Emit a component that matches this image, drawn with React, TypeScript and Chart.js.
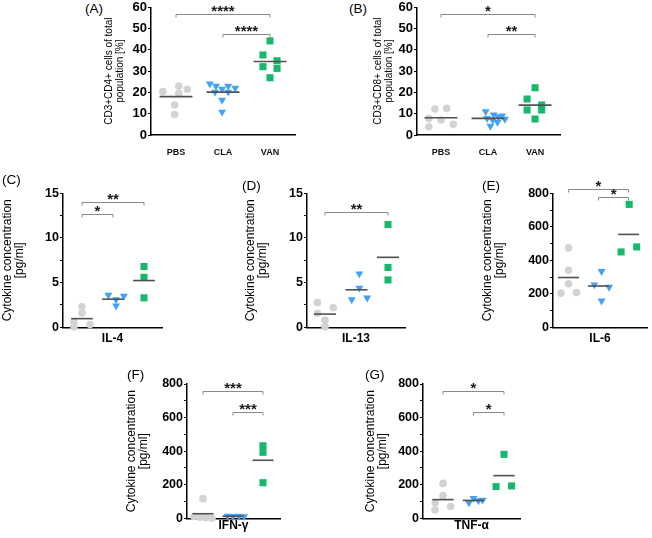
import React, { useEffect, useRef } from 'react';
import { Chart, registerables } from 'chart.js';

Chart.register(...registerables);

const FONT = '"Liberation Sans", Arial, sans-serif';

// group labels
const groups = ['PBS', 'CLA', 'VAN'];

// (A) CD3+CD4+ [%]
const aPbs = [20.4, 23.0, 21.5, 19.6, 14.1, 9.6];
const aPbsJit = [-0.28, 0.06, 0.24, 0.06, -0.03, -0.03];
const aCla = [24.0, 23.0, 21.6, 23.0, 22.1, 20.2, 20.2, 16.4, 10.8];
const aClaJit = [-0.28, -0.15, -0.02, 0.11, 0.26, -0.17, 0.11, -0.02, -0.02];
const aVan = [44.2, 37.6, 34.9, 32.1, 31.3, 26.9];
const aVanJit = [0, -0.15, 0.15, -0.15, 0.15, 0];

// (B) CD3+CD8+ [%]
const bPbs = [12.2, 12.5, 7.8, 7.05, 5.0, 3.9];
const bPbsJit = [-0.13, 0.12, -0.26, 0, 0.26, -0.26];
const bCla = [11, 9.5, 9, 8.5, 7.8, 7.5, 7, 6, 4.2];
const bClaJit = [-0.05, 0.12, 0.3, 0.22, -0.02, 0.36, 0.1, 0.2, 0.05];
const bVan = [22.2, 16.9, 14.1, 11.75, 11.75, 7.5];
const bVanJit = [0, -0.17, 0.14, -0.17, 0.14, 0];

// (C) IL-4 [pg/ml]
const cPbs = [2.3, 1.6, 0.6, 0.3, 0.05];
const cPbsJit = [0, 0, -0.26, 0.26, -0.26];
const cCla = [3.6, 3.5, 3.1, 2.4];
const cClaJit = [-0.15, 0.35, 0.1, 0.1];
const cVan = [6.8, 5.6, 3.3];
const cVanJit = [0, 0, 0];

// (D) IL-13 [pg/ml]
const dPbs = [2.76, 2.2, 1.57, 0.8, 0.07];
const dPbsJit = [-0.24, 0.26, -0.24, 0, 0];
const dCla = [6.0, 4.4, 3.1, 3.3];
const dClaJit = [0.09, 0.09, -0.15, 0.34];
const dVan = [11.5, 6.7, 5.3];
const dVanJit = [0, 0, 0];

// (E) IL-6 [pg/ml]
const ePbs = [474, 340, 260, 204, 208];
const ePbsJit = [0, 0, 0, -0.25, 0.27];
const eCla = [334, 254, 240, 158];
const eClaJit = [0.1, -0.14, 0.35, 0.1];
const eVan = [734, 450, 480];
const eVanJit = [0.02, -0.25, 0.27];

// (F) IFN-γ [pg/ml]
const fPbs = [117, 10, 6, 3, 0];
const fPbsJit = [0, -0.3, -0.1, 0.1, 0.3];
const fCla = [14, 12, 13, 11];
const fClaJit = [-0.18, 0, 0.2, 0.37];
const fVan = [432, 393, 212];
const fVanJit = [0, 0, 0];

// (G) TNF-α [pg/ml]
const gPbs = [208, 135, 93, 70, 50];
const gPbsJit = [0, 0, -0.26, 0.25, -0.26];
const gCla = [119, 93, 105, 109];
const gClaJit = [0, -0.15, 0.16, 0.3];
const gVan = [381, 189, 193];
const gVanJit = [0, -0.26, 0.25];

// significance brackets: [fromGroup, toGroup, yValue, label]
const aSig: [number, number, number, string][] = [[0, 2, 56.7, '****'], [1, 2, 47.3, '****']];
const bSig: [number, number, number, string][] = [[0, 2, 56.9, '*'], [1, 2, 47.5, '**']];
const cSig: [number, number, number, string][] = [[0, 2, 14, '**'], [0, 1, 12.7, '*']];
const dSig: [number, number, number, string][] = [[0, 2, 12.9, '**']];
const eSig: [number, number, number, string][] = [[0, 2, 824, '*'], [1, 2, 778, '*']];
const fSig: [number, number, number, string][] = [[0, 2, 760, '***'], [1, 2, 631, '***']];
const gSig: [number, number, number, string][] = [[0, 2, 758, '*'], [1, 2, 631, '*']];

const pctTitle = (n: string) => [`CD3+${n}+ cells of total`, 'population [%]'];
const cytoTitle = ['Cytokine concentration', '[pg/ml]'];

const COLORS = ['#d3d3d3', '#44a2f5', '#17b86c'];
const STYLES = ['circle', 'triangle', 'rect'];
const RADII = [3.8, 4.6, 5];
const ROT = [0, 180, 0];

type Rect = { left: number; top: number; width: number; height: number };
type Area = { left: number; top: number; right: number; bottom: number };
type PanelDef = {
  letter: string;
  letterPos: [number, number];
  canvas: Rect;
  area: Area;
  xRange: [number, number];
  yMax: number;
  yMajor: number;
  yMinor: number;
  yTitle: string[];
  pct: boolean;
  xTitle?: string;
  values: number[][];
  jitter: number[][];
  sig: [number, number, number, string][];
};

const panels: PanelDef[] = [
  {
    letter: '(A)', letterPos: [85, 2],
    canvas: { left: 103, top: -3, width: 197, height: 163 },
    area: { left: 151, top: 7.3, right: 295, bottom: 135 },
    xRange: [-0.532, 2.532], yMax: 60, yMajor: 10, yMinor: 10,
    yTitle: pctTitle('CD4'), pct: true,
    values: [aPbs, aCla, aVan], jitter: [aPbsJit, aClaJit, aVanJit], sig: aSig,
  },
  {
    letter: '(B)', letterPos: [349, 2],
    canvas: { left: 372, top: -3, width: 194, height: 163 },
    area: { left: 417, top: 7.3, right: 560, bottom: 135 },
    xRange: [-0.51, 2.53], yMax: 60, yMajor: 10, yMinor: 10,
    yTitle: pctTitle('CD8'), pct: true,
    values: [bPbs, bCla, bVan], jitter: [bPbsJit, bClaJit, bVanJit], sig: bSig,
  },
  {
    letter: '(C)', letterPos: [2, 173],
    canvas: { left: 2, top: 175, width: 166, height: 171 },
    area: { left: 63, top: 193.3, right: 162, bottom: 327.3 },
    xRange: [-0.613, 2.581], yMax: 15, yMajor: 5, yMinor: 2.5,
    yTitle: cytoTitle, pct: false, xTitle: 'IL-4',
    values: [cPbs, cCla, cVan], jitter: [cPbsJit, cClaJit, cVanJit], sig: cSig,
  },
  {
    letter: '(D)', letterPos: [242, 179],
    canvas: { left: 245, top: 175, width: 166, height: 171 },
    area: { left: 307, top: 193.3, right: 405, bottom: 327.3 },
    xRange: [-0.571, 2.54], yMax: 15, yMajor: 5, yMinor: 2.5,
    yTitle: cytoTitle, pct: false, xTitle: 'IL-13',
    values: [dPbs, dCla, dVan], jitter: [dPbsJit, dClaJit, dVanJit], sig: dSig,
  },
  {
    letter: '(E)', letterPos: [482, 179],
    canvas: { left: 482, top: 175, width: 170, height: 171 },
    area: { left: 553, top: 193.3, right: 650, bottom: 327.3 },
    xRange: [-0.516, 2.613], yMax: 800, yMajor: 200, yMinor: 100,
    yTitle: cytoTitle, pct: false, xTitle: 'IL-6',
    values: [ePbs, eCla, eVan], jitter: [ePbsJit, eClaJit, eVanJit], sig: eSig,
  },
  {
    letter: '(F)', letterPos: [127, 368],
    canvas: { left: 126, top: 365, width: 160, height: 168 },
    area: { left: 187, top: 384, right: 280, bottom: 518.3 },
    xRange: [-0.533, 2.567], yMax: 800, yMajor: 200, yMinor: 100,
    yTitle: cytoTitle, pct: false, xTitle: 'IFN-γ',
    values: [fPbs, fCla, fVan], jitter: [fPbsJit, fClaJit, fVanJit], sig: fSig,
  },
  {
    letter: '(G)', letterPos: [365, 368],
    canvas: { left: 365, top: 365, width: 161, height: 168 },
    area: { left: 423, top: 384, right: 520, bottom: 518.3 },
    xRange: [-0.656, 2.525], yMax: 800, yMajor: 200, yMinor: 100,
    yTitle: cytoTitle, pct: false, xTitle: 'TNF-α',
    values: [gPbs, gCla, gVan], jitter: [gPbsJit, gClaJit, gVanJit], sig: gSig,
  },
];

function makeSigPlugin(sig: [number, number, number, string][]) {
  return {
    id: 'sigBrackets',
    afterDatasetsDraw(chart: any) {
      const { ctx, scales } = chart;
      const xs = scales.x;
      const ys = scales.y;
      ctx.save();
      sig.forEach(([from, to, yv, label]) => {
        const x1 = xs.getPixelForValue(from);
        const x2 = xs.getPixelForValue(to);
        const yp = Math.round(ys.getPixelForValue(yv)) + 0.5;
        ctx.strokeStyle = '#8a8a8a';
        ctx.lineWidth = 1;
        ctx.beginPath();
        ctx.moveTo(x1, yp + 3);
        ctx.lineTo(x1, yp);
        ctx.lineTo(x2, yp);
        ctx.lineTo(x2, yp + 3);
        ctx.stroke();
        ctx.fillStyle = '#1a1a1a';
        ctx.font = `bold 15px ${FONT}`;
        ctx.textAlign = 'center';
        ctx.textBaseline = 'alphabetic';
        ctx.fillText(label, (x1 + x2) / 2, yp + 1.5);
      });
      ctx.restore();
    },
  };
}

function Panel({ def }: { def: PanelDef }) {
  const ref = useRef<HTMLCanvasElement>(null);
  useEffect(() => {
    const c = ref.current;
    if (!c) return;
    const { canvas, area } = def;
    const padTop = area.top - canvas.top;
    const padRight = canvas.left + canvas.width - area.right;
    const yWidth = area.left - canvas.left;
    const xHeight = canvas.top + canvas.height - area.bottom;

    const datasets: any[] = [];
    def.values.forEach((vals, g) => {
      const mean = vals.reduce((s, v) => s + v, 0) / vals.length;
      datasets.push({
        data: [{ x: g - 0.35, y: mean }, { x: g + 0.35, y: mean }],
        showLine: true,
        borderColor: '#505050',
        borderWidth: 1.6,
        pointRadius: 0,
        order: 0,
        clip: false,
      });
    });
    def.values.forEach((vals, g) => {
      datasets.push({
        data: vals.map((v, i) => ({ x: g + def.jitter[g][i], y: v })),
        pointStyle: STYLES[g],
        pointRadius: RADII[g],
        pointRotation: ROT[g],
        backgroundColor: COLORS[g],
        borderColor: COLORS[g],
        borderWidth: 0,
        showLine: false,
        order: 1,
        clip: false,
      });
    });

    const chart = new Chart(c, {
      type: 'scatter',
      data: { datasets },
      options: {
        animation: false,
        responsive: false,
        devicePixelRatio: 1,
        layout: { padding: { top: padTop, right: padRight, left: 0, bottom: 0 } },
        plugins: { legend: { display: false }, tooltip: { enabled: false } },
        events: [],
        scales: {
          x: {
            type: 'linear',
            min: def.xRange[0],
            max: def.xRange[1],
            afterBuildTicks: (s: any) => { s.ticks = [0, 1, 2].map((v) => ({ value: v })); },
            afterFit: (s: any) => { s.height = xHeight; },
            grid: { display: false },
            border: { display: true, color: '#000', width: 1.5 },
            ticks: {
              display: def.pct,
              autoSkip: false,
              maxRotation: 0,
              padding: 4,
              color: '#111',
              font: { family: FONT, size: 9, weight: 'bold' },
              callback: (v: any) => groups[Math.round(Number(v))] ?? '',
            },
            title: {
              display: !!def.xTitle,
              text: def.xTitle || '',
              color: '#000',
              padding: { top: 0, bottom: 0 },
              font: { family: FONT, size: 12, weight: 'bold', lineHeight: 1.2 },
            },
          },
          y: {
            type: 'linear',
            min: 0,
            max: def.yMax,
            afterFit: (s: any) => { s.width = yWidth; },
            grid: { display: true, drawOnChartArea: false, drawTicks: true, tickLength: 3, color: '#000', tickColor: '#000', tickWidth: 1 },
            border: { display: true, color: '#000', width: 1.5 },
            ticks: {
              stepSize: def.yMinor,
              autoSkip: false,
              padding: 1,
              color: '#000',
              font: { family: FONT, size: def.pct ? 13 : 12.5, weight: 'bold' },
              callback: (v: any) => (Math.abs(Number(v) % def.yMajor) < 1e-6 ? String(v) : ''),
            },
            title: {
              display: true,
              text: def.yTitle,
              color: '#000',
              padding: { top: 0, bottom: 0 },
              font: def.pct
                ? { family: FONT, size: 10, lineHeight: 1.15 }
                : { family: FONT, size: 12, lineHeight: 1.0 },
            },
          },
        },
      } as any,
      plugins: [makeSigPlugin(def.sig)],
    });
    return () => chart.destroy();
  }, [def]);

  return (
    <canvas
      ref={ref}
      width={def.canvas.width}
      height={def.canvas.height}
      style={{
        position: 'absolute',
        left: def.canvas.left,
        top: def.canvas.top,
        width: def.canvas.width,
        height: def.canvas.height,
      }}
    />
  );
}

export default function App() {
  return (
    <div style={{ position: 'absolute', left: 0, top: 0, width: 652, height: 538, background: '#fff', overflow: 'hidden' }}>
      {panels.map((p) => (
        <Panel key={p.letter} def={p} />
      ))}
      {panels.map((p) => (
        <div
          key={p.letter + 'l'}
          style={{
            position: 'absolute',
            left: p.letterPos[0],
            top: p.letterPos[1],
            fontFamily: FONT,
            fontSize: 13.5,
            lineHeight: '13px',
            color: '#000',
            zIndex: 2,
          }}
        >
          {p.letter}
        </div>
      ))}
    </div>
  );
}
